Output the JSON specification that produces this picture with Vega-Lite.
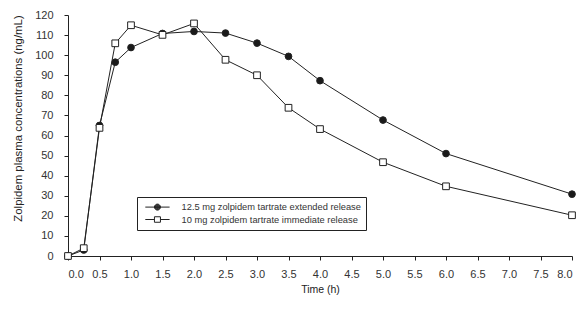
{
  "$schema": "https://vega.github.io/schema/vega-lite/v6.json",
  "width": 504,
  "height": 241,
  "autosize": "none",
  "padding": {"left": 68, "top": 15, "right": 8, "bottom": 66},
  "background": "white",
  "config": {
    "font": "Liberation Sans",
    "view": {"stroke": null},
    "axis": {
      "domainColor": "#222",
      "tickColor": "#222",
      "labelColor": "#333",
      "titleColor": "#222",
      "labelFontSize": 11,
      "titleFontSize": 10.5,
      "titleFontWeight": "normal",
      "tickSize": 4,
      "grid": false
    }
  },
  "data": {
    "values": [
      {"series": "12.5 mg zolpidem tartrate extended release", "time": 0, "conc": 0},
      {"series": "12.5 mg zolpidem tartrate extended release", "time": 0.25, "conc": 3},
      {"series": "12.5 mg zolpidem tartrate extended release", "time": 0.5, "conc": 65},
      {"series": "12.5 mg zolpidem tartrate extended release", "time": 0.75, "conc": 96.5},
      {"series": "12.5 mg zolpidem tartrate extended release", "time": 1, "conc": 103.8},
      {"series": "12.5 mg zolpidem tartrate extended release", "time": 1.5, "conc": 110.8},
      {"series": "12.5 mg zolpidem tartrate extended release", "time": 2, "conc": 111.8},
      {"series": "12.5 mg zolpidem tartrate extended release", "time": 2.5, "conc": 111},
      {"series": "12.5 mg zolpidem tartrate extended release", "time": 3, "conc": 106},
      {"series": "12.5 mg zolpidem tartrate extended release", "time": 3.5, "conc": 99.4},
      {"series": "12.5 mg zolpidem tartrate extended release", "time": 4, "conc": 87.3},
      {"series": "12.5 mg zolpidem tartrate extended release", "time": 5, "conc": 67.7},
      {"series": "12.5 mg zolpidem tartrate extended release", "time": 6, "conc": 51},
      {"series": "12.5 mg zolpidem tartrate extended release", "time": 8, "conc": 30.8},
      {"series": "10 mg zolpidem tartrate immediate release", "time": 0, "conc": 0},
      {"series": "10 mg zolpidem tartrate immediate release", "time": 0.25, "conc": 3.9},
      {"series": "10 mg zolpidem tartrate immediate release", "time": 0.5, "conc": 63.8},
      {"series": "10 mg zolpidem tartrate immediate release", "time": 0.75, "conc": 105.9},
      {"series": "10 mg zolpidem tartrate immediate release", "time": 1, "conc": 114.9},
      {"series": "10 mg zolpidem tartrate immediate release", "time": 1.5, "conc": 110.1},
      {"series": "10 mg zolpidem tartrate immediate release", "time": 2, "conc": 115.8},
      {"series": "10 mg zolpidem tartrate immediate release", "time": 2.5, "conc": 97.7},
      {"series": "10 mg zolpidem tartrate immediate release", "time": 3, "conc": 90},
      {"series": "10 mg zolpidem tartrate immediate release", "time": 3.5, "conc": 73.8},
      {"series": "10 mg zolpidem tartrate immediate release", "time": 4, "conc": 63.2},
      {"series": "10 mg zolpidem tartrate immediate release", "time": 5, "conc": 46.7},
      {"series": "10 mg zolpidem tartrate immediate release", "time": 6, "conc": 34.7},
      {"series": "10 mg zolpidem tartrate immediate release", "time": 8, "conc": 20.3}
    ]
  },
  "encoding": {
    "x": {
      "field": "time",
      "type": "quantitative",
      "scale": {"domain": [0, 8], "nice": false},
      "axis": {
        "values": [0, 0.5, 1, 1.5, 2, 2.5, 3, 3.5, 4, 4.5, 5, 5.5, 6, 6.5, 7, 7.5, 8],
        "format": ".1f",
        "title": "Time (h)",
        "labelPadding": 8,
        "titlePadding": 5
      }
    },
    "y": {
      "field": "conc",
      "type": "quantitative",
      "scale": {"domain": [0, 120], "nice": false},
      "axis": {
        "values": [0, 10, 20, 30, 40, 50, 60, 70, 80, 90, 100, 110, 120],
        "title": "Zolpidem plasma concentrations (ng/mL)",
        "titleFontSize": 11.4,
        "titleY": 103,
        "labelPadding": 11,
        "titlePadding": 11
      }
    }
  },
  "resolve": {"scale": {"shape": "independent", "fill": "independent"}},
  "layer": [
    {
      "mark": {"type": "line", "color": "#222", "strokeWidth": 1},
      "encoding": {"detail": {"field": "series", "type": "nominal"}}
    },
    {
      "mark": {"type": "point", "filled": false, "size": 45, "strokeWidth": 1, "stroke": "#222", "opacity": 1},
      "encoding": {
        "shape": {
          "field": "series",
          "type": "nominal",
          "scale": {
            "domain": ["12.5 mg zolpidem tartrate extended release", "10 mg zolpidem tartrate immediate release"],
            "range": ["circle", "square"]
          },
          "legend": null
        },
        "fill": {
          "field": "series",
          "type": "nominal",
          "scale": {
            "domain": ["12.5 mg zolpidem tartrate extended release", "10 mg zolpidem tartrate immediate release"],
            "range": ["#1a1a1a", "white"]
          },
          "legend": null
        }
      }
    },
    {
      "transform": [{"filter": "datum.time < 0"}],
      "mark": {"type": "point", "filled": false, "size": 100, "strokeWidth": 1, "stroke": "#222", "opacity": 1},
      "encoding": {
        "shape": {
          "field": "series",
          "type": "nominal",
          "scale": {
            "domain": ["12.5 mg zolpidem tartrate extended release", "10 mg zolpidem tartrate immediate release"],
            "range": [
              "M-0.36,0H4.5M2.67,0A0.6,0.6 0 1,1 1.47,0A0.6,0.6 0 1,1 2.67,0M2.57,0A0.5,0.5 0 1,1 1.57,0A0.5,0.5 0 1,1 2.57,0M2.47,0A0.4,0.4 0 1,1 1.67,0A0.4,0.4 0 1,1 2.47,0M2.37,0A0.3,0.3 0 1,1 1.77,0A0.3,0.3 0 1,1 2.37,0M2.27,0A0.2,0.2 0 1,1 1.87,0A0.2,0.2 0 1,1 2.27,0M2.17,0A0.1,0.1 0 1,1 1.97,0A0.1,0.1 0 1,1 2.17,0",
              "M-0.36,0H1.47M2.67,0H4.5M1.47,-0.55H2.67V0.55H1.47Z"
            ]
          },
          "legend": {
            "title": null,
            "orient": "none",
            "legendX": 69,
            "legendY": 182,
            "strokeColor": "#222",
            "fillColor": "white",
            "padding": 4.6,
            "labelFontSize": 9.3,
            "labelColor": "#333",
            "labelLimit": 0,
            "symbolSize": 100,
            "symbolStrokeWidth": 1,
            "symbolStrokeColor": "#222",
            "labelOffset": 29,
            "rowPadding": 1.4
          }
        }
      }
    }
  ]
}
